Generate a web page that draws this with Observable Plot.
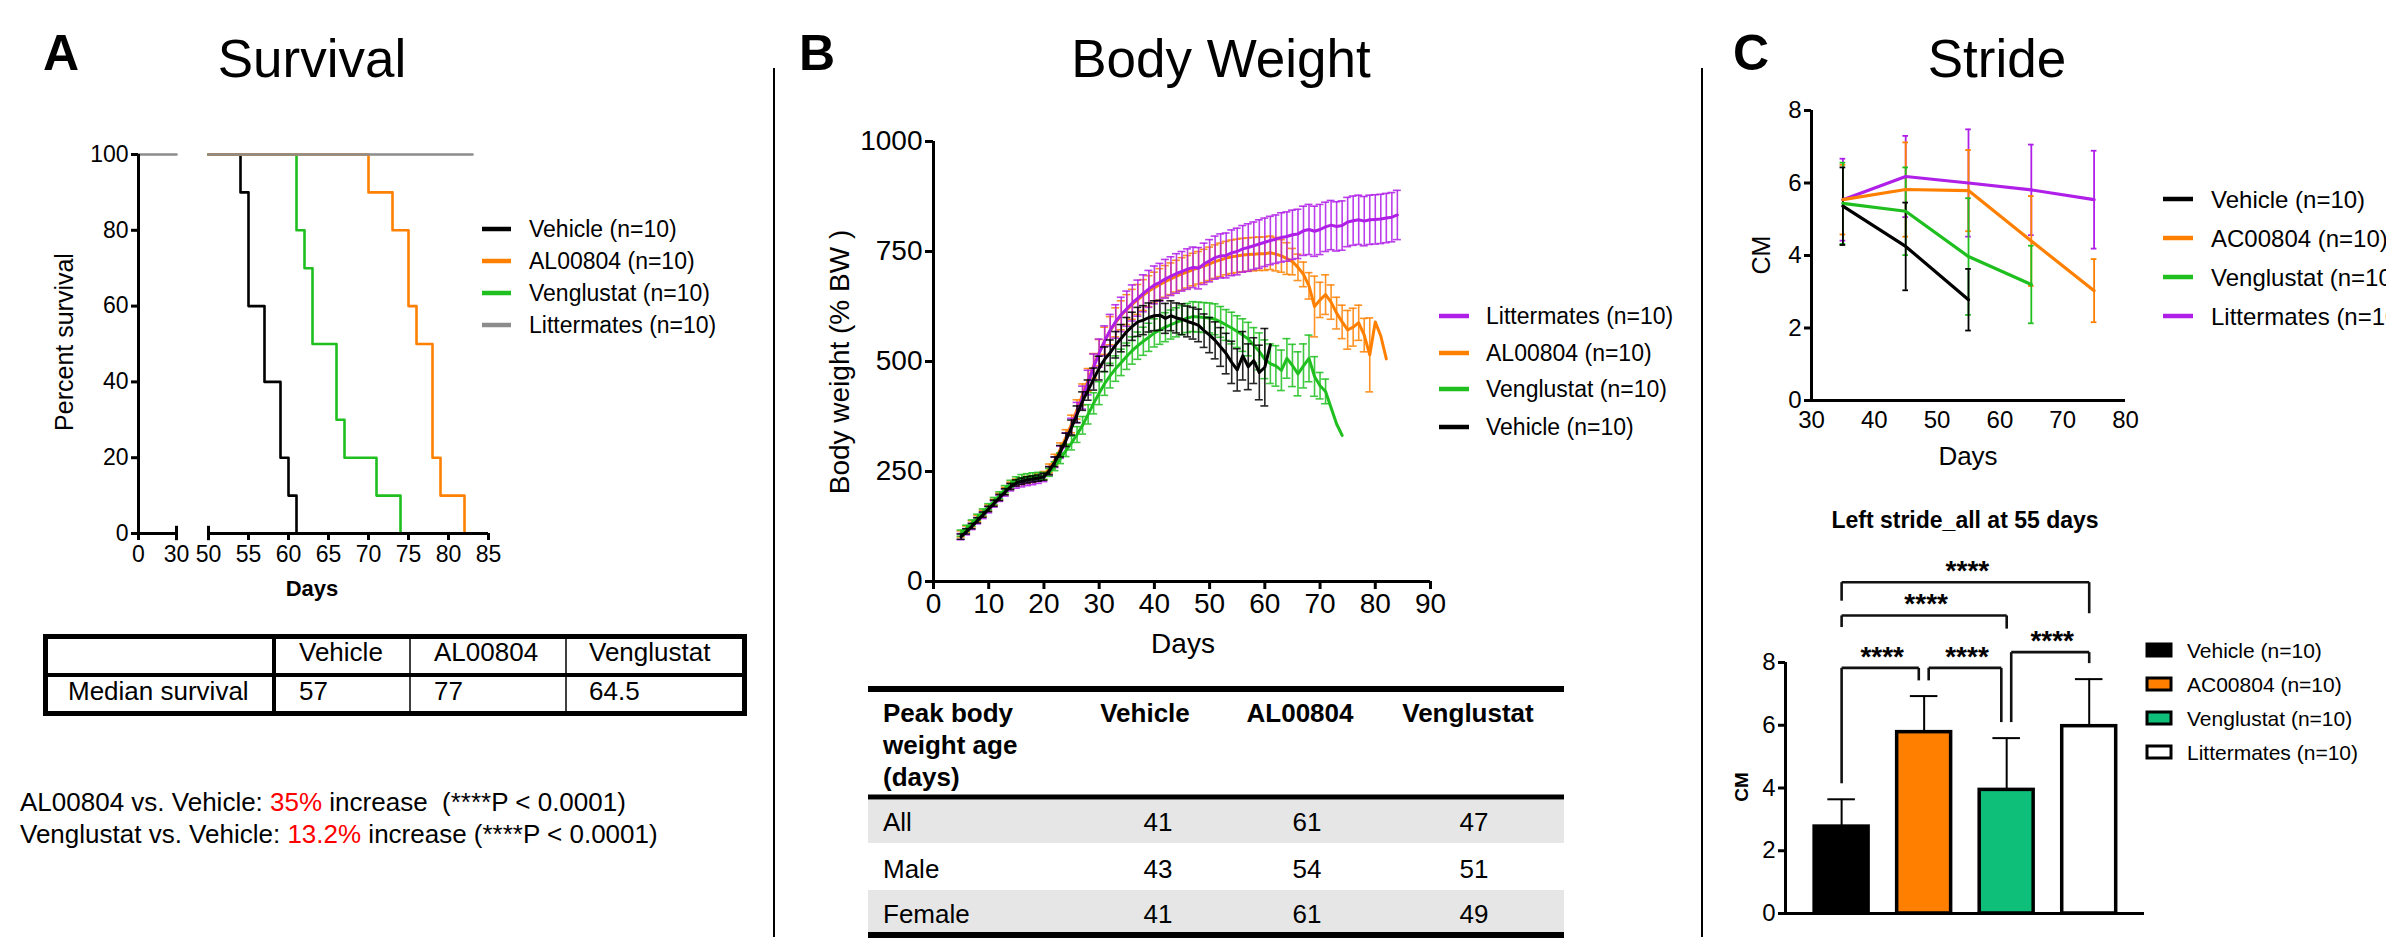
<!DOCTYPE html>
<html><head><meta charset="utf-8">
<script src="https://cdn.jsdelivr.net/npm/d3@7"></script>
<script src="https://cdn.jsdelivr.net/npm/@observablehq/plot@0.6"></script>
<style>
html,body{margin:0;padding:0;background:#fff;overflow:hidden;}
#fig{position:relative;width:2386px;height:940px;font-family:'Liberation Sans',Arial,Helvetica,sans-serif;color:#000;}
#fig > svg{position:absolute;left:0;top:0;}
</style></head><body><div id="fig"></div>
<script>
// ---------------- DATA ----------------
// Panel A: Kaplan-Meier survival (day, percent surviving), step-after
const survVehicle    = [[50,100],[54,90],[55,60],[57,40],[59,20],[60,10],[61,0]];
const survAL00804    = [[50,100],[70,90],[73,80],[75,60],[76,50],[78,20],[79,10],[82,0]];
const survVenglustat = [[50,100],[61,80],[62,70],[63,50],[66,30],[67,20],[71,10],[74,0]];
const survLittermatesEarly = [[0,100],[30,100]];
const survLittermatesLate  = [[50,100],[83,100]];
const survAxisEarly = [0,30];   // first (broken) x-axis segment
const survAxisLate  = [50,85];  // second x-axis segment
const survXTicksEarly = [0,30];
const survXTicksLate  = [50,55,60,65,70,75,80,85];
const survYTicks = [0,20,40,60,80,100];
const survLegend = ["Vehicle (n=10)","AL00804 (n=10)","Venglustat (n=10)","Littermates (n=10)"];
const medianGroups = ["Vehicle","AL00804","Venglustat"];
const medianSurvival = ["57","77","64.5"];

// Panel B: body weight (% BW), daily from day 5
const bwStartDay = 5;
const bwLitMean = [102,113,125,138,150,163,176,189,202,214, 220,223,226,228,231,236,251,271,294,321,
  351,384,418,452,487,519,547,571,591,607, 620,633,644,655,665,674,680,688,694,700,
  705,710,714,712,722,729,736,740,741,747, 750,756,759,763,767,771,775,778,782,784,
  788,790,797,800,796,800,806,810,807,809, 817,820,822,819,822,823,824,826,828,833];
const bwLitSem = [7,7,7,7,7,7,7,7,8,8, 8,8,8,8,8,9,10,12,14,17,
  20,23,26,28,30,32,34,36,38,39, 40,41,41,42,42,43,43,44,44,45,
  45,46,46,47,47,48,49,50,51,52, 53,53,54,54,55,55,55,55,56,56,
  56,56,56,57,57,57,56,56,56,56, 56,56,56,56,56,56,56,56,56,56];
const bwALMean = [108,119,131,143,155,167,180,193,206,218, 225,228,231,233,237,241,257,277,301,328,
  358,391,425,458,490,520,547,570,589,605, 618,630,641,651,660,668,675,682,688,694,
  699,704,709,713,717,722,727,731,735,738, 740,742,743,744,745,745,747,744,740,734,
  727,714,698,672,625,640,652,635,610,590, 572,578,588,560,515,590,558,506];
const bwALSem = [7,7,7,7,7,7,7,8,8,8, 8,8,8,8,8,9,10,12,14,17,
  20,22,24,26,28,30,31,32,33,33, 34,34,34,35,35,35,36,36,36,36,
  37,37,37,37,38,38,38,38,38,38, 38,38,38,38,38,38,38,38,37,36,
  30,30,28,30,69,40,45,39,36,38, 44,43,40,38,84,0,0,0];
const bwVengMean = [110,121,133,146,158,170,183,196,210,222, 230,235,237,239,240,240,248,262,280,298,
  315,334,355,380,405,428,450,468,484,498, 512,525,536,546,555,565,572,578,584,589,
  594,599,602,601,600,599,596,590,583,576, 568,560,551,537,523,505,495,490,480,507,
  491,472,490,507,466,445,432,395,358,332];
const bwVengSem = [7,7,7,7,7,7,8,8,8,8, 8,8,8,8,8,8,9,10,12,14,
  16,18,20,22,24,26,27,28,29,30, 30,31,31,32,32,32,33,33,33,33,
  33,33,34,34,34,34,35,35,35,36, 36,37,38,40,42,44,45,46,46,45,
  48,50,50,53,45,30,28,0,0,0];
const bwVehMean = [102,114,126,139,152,165,178,191,204,216, 224,228,231,233,235,238,252,272,296,322,
  350,380,410,435,460,485,505,520,538,553, 568,580,590,594,600,604,605,598,604,599,
  596,591,587,582,570,560,548,533,518,498, 481,513,488,502,475,487,538];
const bwVehSem = [6,6,6,6,6,6,7,7,7,7, 7,7,7,7,7,8,9,11,13,15,
  17,19,21,23,25,27,28,29,30,31, 32,32,33,33,33,34,34,34,34,34,
  35,35,36,37,38,40,42,44,46,48, 48,55,52,52,62,88,0];
const bwXTicks = [0,10,20,30,40,50,60,70,80,90];
const bwYTicks = [0,250,500,750,1000];
const bwLegend = ["Littermates (n=10)","AL00804 (n=10)","Venglustat (n=10)","Vehicle (n=10)"];
const peakHeader = ["Vehicle","AL00804","Venglustat"];
const peakRows = ["All","Male","Female"];
const peakAll = ["41","61","47"];
const peakMale = ["43","54","51"];
const peakFemale = ["41","61","49"];

// Panel C: stride (cm) by age
const strideDays = [35,45,55,65,75];
const strideVehMean = [5.36,4.25,2.78];
const strideVehSd   = [1.07,1.21,0.85];
const strideACMean  = [5.54,5.82,5.79,4.40,3.03];
const strideACSd    = [0.96,1.30,1.12,1.24,0.87];
const strideVengMean = [5.44,5.22,3.97,3.20];
const strideVengSd   = [1.12,1.21,1.61,1.07];
const strideLitMean = [5.54,6.18,6.00,5.81,5.54];
const strideLitSd   = [1.13,1.12,1.48,1.25,1.35];
const strideXTicks = [30,40,50,60,70,80];
const strideYTicks = [0,2,4,6,8];
const strideLegend = ["Vehicle (n=10)","AC00804 (n=10)","Venglustat (n=10)","Littermates (n=10)"];

// Panel C bottom: left stride at 55 days
const barGroups = ["Vehicle (n=10)","AC00804 (n=10)","Venglustat (n=10)","Littermates (n=10)"];
const barMean = [2.77,5.78,3.94,5.97];
const barSd   = [0.87,1.15,1.65,1.50];
const barYTicks = [0,2,4,6,8];
// significance brackets: group indices, bracket level, drop ends
const sigFrom  = [0,1,2,0,0];
const sigTo    = [1,2,3,2,3];
const sigLevel = [7.83,7.83,8.33,9.5,10.56];
const sigDropFrom = [4.15,7.43,6.1,9.13,9.97];
const sigDropTo   = [7.43,6.1,7.98,9.08,9.57];
const sigLabel = ["****","****","****","****","****"];

// ---------------- STYLE / LAYOUT ----------------
const W = 2386, H = 940;
const FONT = "'Liberation Sans', Arial, Helvetica, sans-serif";
const COL = {black:"#000000", orange:"#ff8000", green:"#1fbf1f", grey:"#8c8c8c", purple:"#b01fe8", barGreen:"#0dbf78", white:"#ffffff"};
const fig = document.getElementById("fig");
function addPlot(p){ p.style.position="absolute"; p.style.left="0"; p.style.top="0"; p.style.background="transparent"; p.style.overflow="visible"; fig.appendChild(p); }

// ---------- background svg for text, legends, tables ----------
const svg = d3.select(fig).append("svg").attr("width",W).attr("height",H).style("font-family",FONT);
function txt(x,y,s,size,o={}){
  const t = svg.append("text").attr("x",x).attr("y",y).attr("font-size",size).style("white-space","pre").text(s);
  if(o.anchor) t.attr("text-anchor",o.anchor);
  if(o.weight) t.attr("font-weight",o.weight);
  if(o.mid) t.attr("dominant-baseline","central");
  if(o.rot) t.attr("transform",`rotate(-90 ${x} ${y})`);
  return t;
}
// dividers
svg.append("line").attr("x1",774).attr("x2",774).attr("y1",68).attr("y2",937).attr("stroke","#000").attr("stroke-width",2);
svg.append("line").attr("x1",1702).attr("x2",1702).attr("y1",68).attr("y2",937).attr("stroke","#000").attr("stroke-width",2);
// panel letters & titles
txt(43,70,"A",50,{weight:"bold"}); txt(312,77,"Survival",53,{anchor:"middle"});
txt(799,70,"B",50,{weight:"bold"}); txt(1221,77,"Body Weight",53,{anchor:"middle"});
txt(1733,70,"C",50,{weight:"bold"}); txt(1997,77,"Stride",53,{anchor:"middle"});
// axis titles
txt(64,342,"Percent survival",25,{anchor:"middle",mid:true,rot:true});
txt(312,588,"Days",22,{anchor:"middle",mid:true,weight:"bold"});
txt(839,362,"Body weight (% BW )",28,{anchor:"middle",mid:true,rot:true});
txt(1183,643,"Days",28,{anchor:"middle",mid:true});
txt(1761,255,"CM",25,{anchor:"middle",mid:true,rot:true});
txt(1968,456,"Days",26,{anchor:"middle",mid:true});
txt(1965,528,"Left stride_all at 55 days",23,{anchor:"middle",weight:"bold"});
txt(1741,787,"CM",19,{anchor:"middle",mid:true,rot:true,weight:"bold"});

// line legends
function lineLegend(labels,colors,x0,x1,xt,ys,size){
  labels.forEach((l,i)=>{
    svg.append("line").attr("x1",x0).attr("x2",x1).attr("y1",ys[i]).attr("y2",ys[i]).attr("stroke",colors[i]).attr("stroke-width",4.5);
    txt(xt,ys[i],l,size,{mid:true});
  });
}
lineLegend(survLegend,[COL.black,COL.orange,COL.green,COL.grey],482,511,529,[229,261,293,325],23);
lineLegend(bwLegend,[COL.purple,COL.orange,COL.green,COL.black],1439,1469,1486,[316,353,389,427],23);
lineLegend(strideLegend,[COL.black,COL.orange,COL.green,COL.purple],2163,2193,2211,[199,238,277,316],24);
// bar legend
const barFills = [COL.black,COL.orange,COL.barGreen,COL.white];
barGroups.forEach((l,i)=>{
  const y = [650,684,718,752][i];
  svg.append("rect").attr("x",2147).attr("y",y-6).attr("width",24).attr("height",12).attr("fill",barFills[i]).attr("stroke","#000").attr("stroke-width",3);
  txt(2187,y,l,21,{mid:true});
});

// Table A
svg.append("rect").attr("x",45.5).attr("y",636.5).attr("width",699).attr("height",77).attr("fill","none").attr("stroke","#000").attr("stroke-width",5);
svg.append("line").attr("x1",43).attr("x2",747).attr("y1",675).attr("y2",675).attr("stroke","#000").attr("stroke-width",4);
[[274,4],[410,1.5],[566,1.5]].forEach(([x,w])=>svg.append("line").attr("x1",x).attr("x2",x).attr("y1",634).attr("y2",716).attr("stroke","#000").attr("stroke-width",w));
const colAx = [299,434,589];
medianGroups.forEach((g,i)=>txt(colAx[i],661,g,26));
txt(68,700,"Median survival",26);
medianSurvival.forEach((v,i)=>txt(colAx[i],700,v,26));
// stats lines
const l1 = txt(20,811,"",26); l1.append("tspan").text("AL00804 vs. Vehicle: "); l1.append("tspan").attr("fill","#ff0000").text("35%"); l1.append("tspan").text(" increase  (****P < 0.0001)");
const l2 = txt(20,843,"",26); l2.append("tspan").text("Venglustat vs. Vehicle: "); l2.append("tspan").attr("fill","#ff0000").text("13.2%"); l2.append("tspan").text(" increase (****P < 0.0001)");

// Table B
svg.append("rect").attr("x",868).attr("y",800).attr("width",696).attr("height",43).attr("fill","#e6e6e6");
svg.append("rect").attr("x",868).attr("y",890).attr("width",696).attr("height",42).attr("fill","#e6e6e6");
[[689,6],[797,5],[935,6]].forEach(([y,w])=>svg.append("line").attr("x1",868).attr("x2",1564).attr("y1",y).attr("y2",y).attr("stroke","#000").attr("stroke-width",w));
["Peak body","weight age","(days)"].forEach((s,i)=>txt(883,722+32*i,s,26,{weight:"bold"}));
const colBh = [1145,1300,1468], colBv = [1158,1307,1474];
peakHeader.forEach((h,i)=>txt(colBh[i],722,h,26,{weight:"bold",anchor:"middle"}));
[peakAll,peakMale,peakFemale].forEach((row,r)=>{
  const y = [831,878,923][r];
  txt(883,y,peakRows[r],26);
  row.forEach((v,i)=>txt(colBv[i],y,v,26,{anchor:"middle"}));
});

// ---------------- PANEL A PLOTS (broken x axis: two segments) ----------------
const axisStyle = {tickSize:7, strokeWidth:3, label:null};
const pt = d=>d[0], pv = d=>d[1];
const survY = {domain:[0,100]};
const survCommon = {width:W, height:H, marginTop:154, marginBottom:H-533, style:{fontFamily:FONT, background:"transparent"}, y:survY};
addPlot(Plot.plot({
  ...survCommon, marginLeft:138, marginRight:W-176,
  x:{domain:survAxisEarly},
  marks:[
    Plot.line(survLittermatesEarly,{x:pt,y:pv,stroke:COL.grey,strokeWidth:2.6}),
    Plot.ruleX([survAxisEarly[0]],{strokeWidth:3}),
    Plot.ruleY([0],{strokeWidth:3}),
    Plot.ruleX([survAxisEarly[1]],{y1:()=>-1.9,y2:()=>1.9,strokeWidth:3}),
    Plot.axisX({...axisStyle, ticks:survXTicksEarly, tickPadding:5, fontSize:23}),
    Plot.axisY({...axisStyle, ticks:survYTicks, tickPadding:3, fontSize:23})
  ]
}));
addPlot(Plot.plot({
  ...survCommon, marginLeft:208, marginRight:W-488,
  x:{domain:survAxisLate},
  marks:[
    Plot.line(survVehicle,{x:pt,y:pv,curve:"step-after",stroke:COL.black,strokeWidth:2.6}),
    Plot.line(survVenglustat,{x:pt,y:pv,curve:"step-after",stroke:COL.green,strokeWidth:2.6}),
    Plot.line(survAL00804,{x:pt,y:pv,curve:"step-after",stroke:COL.orange,strokeWidth:2.6}),
    Plot.line(survLittermatesLate,{x:pt,y:pv,stroke:COL.grey,strokeWidth:2.6}),
    Plot.ruleY([0],{strokeWidth:3}),
    Plot.ruleX([survAxisLate[0]],{y1:()=>-1.9,y2:()=>1.9,strokeWidth:3}),
    Plot.axisX({...axisStyle, ticks:survXTicksLate, tickPadding:5, fontSize:23}),
    Plot.axisY({ticks:[]})
  ]
}));

// ---------------- PANEL B PLOT ----------------
const rowsOf = (mean,sem)=>mean.map((m,i)=>({day:bwStartDay+i, m, s:sem[i]}));
const bwSeries = [
  {rows:rowsOf(bwALMean,bwALSem), color:COL.orange},
  {rows:rowsOf(bwLitMean,bwLitSem), color:COL.purple},
  {rows:rowsOf(bwVengMean,bwVengSem), color:COL.green},
  {rows:rowsOf(bwVehMean,bwVehSem), color:COL.black}
];
const capB = 0.72;
const bwMarks = bwSeries.flatMap(({rows,color})=>{
  const e = rows.filter(d=>d.s>0);
  return [
    Plot.ruleX(e,{x:"day",y1:d=>d.m-d.s,y2:d=>d.m+d.s,stroke:color,strokeWidth:1.6,strokeOpacity:0.85}),
    Plot.ruleY(e,{y:d=>d.m+d.s,x1:d=>d.day-capB,x2:d=>d.day+capB,stroke:color,strokeWidth:1.6,strokeOpacity:0.85}),
    Plot.ruleY(e,{y:d=>d.m-d.s,x1:d=>d.day-capB,x2:d=>d.day+capB,stroke:color,strokeWidth:1.6,strokeOpacity:0.85}),
    Plot.line(rows,{x:"day",y:"m",stroke:color,strokeWidth:3})
  ];
});
addPlot(Plot.plot({
  width:W, height:H, marginLeft:933, marginRight:W-1430, marginTop:141, marginBottom:H-581,
  style:{fontFamily:FONT, background:"transparent"},
  x:{domain:[0,90]}, y:{domain:[0,1000]},
  marks:[
    ...bwMarks,
    Plot.ruleX([0],{strokeWidth:3}),
    Plot.ruleY([0],{strokeWidth:3}),
    Plot.axisX({...axisStyle, ticks:bwXTicks, tickSize:8, tickPadding:4, fontSize:28, tickFormat:d3.format("d")}),
    Plot.axisY({...axisStyle, ticks:bwYTicks, tickSize:8, tickPadding:3, fontSize:28, tickFormat:d3.format("d")})
  ]
}));

// ---------------- PANEL C LINE PLOT ----------------
const strideRows = (mean,sd)=>mean.map((m,i)=>({day:strideDays[i], m, s:sd[i]}));
const strideSeries = [
  {rows:strideRows(strideLitMean,strideLitSd), color:COL.purple},
  {rows:strideRows(strideACMean,strideACSd), color:COL.orange},
  {rows:strideRows(strideVengMean,strideVengSd), color:COL.green},
  {rows:strideRows(strideVehMean,strideVehSd), color:COL.black}
];
const capC = 0.45;
addPlot(Plot.plot({
  width:W, height:H, marginLeft:1811, marginRight:W-2125, marginTop:110, marginBottom:H-400,
  style:{fontFamily:FONT, background:"transparent"},
  x:{domain:[30,80]}, y:{domain:[0,8]},
  marks:[
    ...strideSeries.flatMap(({rows,color})=>[
      Plot.ruleX(rows,{x:"day",y1:d=>d.m-d.s,y2:d=>d.m+d.s,stroke:color,strokeWidth:1.8}),
      Plot.ruleY(rows,{y:d=>d.m+d.s,x1:d=>d.day-capC,x2:d=>d.day+capC,stroke:color,strokeWidth:1.8}),
      Plot.ruleY(rows,{y:d=>d.m-d.s,x1:d=>d.day-capC,x2:d=>d.day+capC,stroke:color,strokeWidth:1.8})
    ]),
    ...strideSeries.map(({rows,color})=>Plot.line(rows,{x:"day",y:"m",stroke:color,strokeWidth:3.2})),
    Plot.ruleX([30],{strokeWidth:3}),
    Plot.ruleY([0],{strokeWidth:3}),
    Plot.axisX({...axisStyle, ticks:strideXTicks, tickSize:0, tickPadding:10, fontSize:24}),
    Plot.axisY({...axisStyle, ticks:strideYTicks, tickSize:7, tickPadding:3, fontSize:24})
  ]
}));

// ---------------- PANEL C BAR PLOT ----------------
const barRows = barGroups.map((g,i)=>({i, g, v:barMean[i], s:barSd[i], fill:barFills[i]}));
const half = 0.327, capBar = 0.167;
const sig = sigFrom.map((a,k)=>({a, b:sigTo[k], y:sigLevel[k], ya:sigDropFrom[k], yb:sigDropTo[k], label:sigLabel[k]}));
// bracket ends are nudged apart where two neighbouring brackets meet on the same bar
const endX = (s,side)=>{
  const idx = side==="a"?s.a:s.b;
  const shared = sig.some(o=>o!==s && Math.abs(o.y-s.y)<0.6 && ((side==="a"&&o.b===idx)||(side==="b"&&o.a===idx)));
  if(!shared) return idx;
  return side==="a" ? idx+0.055 : idx-0.065;
};
const segs = sig.flatMap(s=>{
  const xa = endX(s,"a"), xb = endX(s,"b");
  return [{x1:xa,y1:s.ya,x2:xa,y2:s.y},{x1:xa,y1:s.y,x2:xb,y2:s.y},{x1:xb,y1:s.y,x2:xb,y2:s.yb}];
});
const starPos = sig.map(s=>({x:(endX(s,"a")+endX(s,"b"))/2, y:s.y, label:s.label}));
const barXDomain = [-0.68,3.67];
addPlot(Plot.plot({
  width:W, height:H, marginLeft:1785, marginRight:W-2144, marginTop:662, marginBottom:H-913,
  style:{fontFamily:FONT, background:"transparent"},
  x:{domain:barXDomain, axis:null}, y:{domain:[0,8]},
  marks:[
    Plot.ruleX(barRows,{x:"i",y1:"v",y2:d=>d.v+d.s,strokeWidth:2}),
    Plot.ruleY(barRows,{y:d=>d.v+d.s,x1:d=>d.i-capBar,x2:d=>d.i+capBar,strokeWidth:2}),
    ...barRows.map(d=>Plot.rectY([d],{x1:r=>r.i-half,x2:r=>r.i+half,y1:()=>0,y2:"v",fill:d.fill,stroke:"#000",strokeWidth:3.5})),
    Plot.link(segs,{x1:"x1",y1:"y1",x2:"x2",y2:"y2",stroke:"#111",strokeWidth:2.6}),
    Plot.text(starPos,{x:"x",y:"y",text:"label",fontSize:28,fontWeight:"bold",dy:-2,dx:2,lineAnchor:"bottom",letterSpacing:5}),
    Plot.ruleX([barXDomain[0]],{strokeWidth:3}),
    Plot.ruleY([0],{strokeWidth:3}),
    Plot.axisY({...axisStyle, ticks:barYTicks, tickSize:7, tickPadding:3, fontSize:24})
  ]
}));
</script></body></html>
